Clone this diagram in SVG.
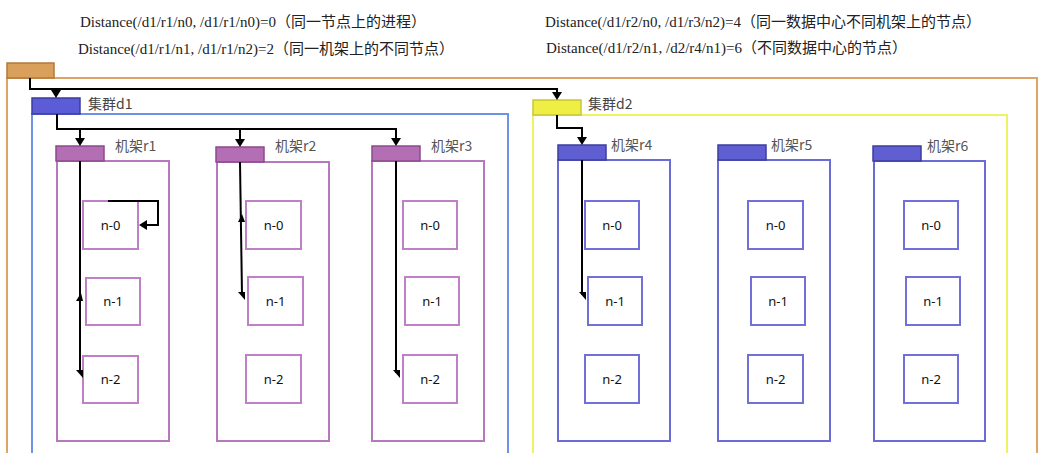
<svg xmlns="http://www.w3.org/2000/svg" width="1045" height="453" viewBox="0 0 1045 453">
  <style>
    .caption { font-family: "Liberation Serif", "Noto Sans CJK SC", serif; font-size: 15px; fill: #222; }
    .dc-label { font-family: "Noto Sans CJK SC", sans-serif; font-size: 14px; fill: #444; }
    .rack-label { font-family: "Noto Sans CJK SC", sans-serif; font-size: 14px; fill: #555; }
    .node-label { font-family: "Noto Sans", "Noto Sans CJK SC", sans-serif; font-size: 13px; fill: #111; text-anchor: middle; }
    .root-box { fill: none; stroke: #dca468; stroke-width: 2; }
    .root-tab { fill: #d9a05b; stroke: #b07a3a; stroke-width: 1.5; }
    .d1-box { fill: none; stroke: #6f92e6; stroke-width: 2; }
    .d1-tab { fill: #5c5cd6; stroke: #3b3b9e; stroke-width: 1.5; }
    .d2-box { fill: none; stroke: #eef266; stroke-width: 2; }
    .d2-tab { fill: #eeee44; stroke: #c6c636; stroke-width: 1.5; }
    .rack-p { fill: none; stroke: #b878c0; stroke-width: 2; }
    .tab-p { fill: #b46fb4; stroke: #8c4a8c; stroke-width: 1.5; }
    .node-p { fill: #fff; stroke: #c080c8; stroke-width: 2; }
    .rack-b { fill: none; stroke: #6b6bd6; stroke-width: 2; }
    .tab-b { fill: #5f5fd2; stroke: #3c3ca0; stroke-width: 1.5; }
    .node-b { fill: #fff; stroke: #7070d8; stroke-width: 2; }
    .link { fill: none; stroke: #000; stroke-width: 2; }
    .head { fill: #000; }
  </style>

  <!-- distance examples -->
  <g id="captions">
    <text class="caption" x="80" y="27">Distance(/d1/r1/n0, /d1/r1/n0)=0（同一节点上的进程）</text>
    <text class="caption" x="78" y="54">Distance(/d1/r1/n1, /d1/r1/n2)=2（同一机架上的不同节点）</text>
    <text class="caption" x="545" y="27">Distance(/d1/r2/n0, /d1/r3/n2)=4（同一数据中心不同机架上的节点）</text>
    <text class="caption" x="546" y="53">Distance(/d1/r2/n1, /d2/r4/n1)=6（不同数据中心的节点）</text>
  </g>

  <!-- root container -->
  <g id="root">
    <rect class="root-box" x="7" y="78" width="1030" height="390"/>
    <rect class="root-tab" x="7" y="63" width="47" height="15"/>
  </g>

  <!-- data center d1 -->
  <g id="d1">
    <rect class="d1-box" x="32" y="114" width="476" height="360"/>
    <rect class="d1-tab" x="32" y="98" width="48" height="16"/>
    <text class="dc-label" x="88" y="109">集群d1</text>
  </g>

  <!-- data center d2 -->
  <g id="d2">
    <rect class="d2-box" x="533" y="115" width="474" height="360"/>
    <rect class="d2-tab" x="533" y="100" width="48" height="15"/>
    <text class="dc-label" x="588" y="109">集群d2</text>
  </g>

  <!-- racks in d1 -->
  <g id="r1">
    <rect class="rack-p" x="57" y="161" width="112" height="280"/>
    <rect class="tab-p" x="56" y="146" width="48" height="15"/>
    <text class="rack-label" x="115" y="151">机架r1</text>
  </g>
  <g id="r2">
    <rect class="rack-p" x="217" y="162" width="112" height="279"/>
    <rect class="tab-p" x="216" y="147" width="48" height="15"/>
    <text class="rack-label" x="275" y="151">机架r2</text>
  </g>
  <g id="r3">
    <rect class="rack-p" x="372" y="161" width="112" height="280"/>
    <rect class="tab-p" x="372" y="146" width="48" height="15"/>
    <text class="rack-label" x="431" y="151">机架r3</text>
  </g>

  <!-- racks in d2 -->
  <g id="r4">
    <rect class="rack-b" x="558" y="160" width="112" height="281"/>
    <rect class="tab-b" x="558" y="145" width="48" height="15"/>
    <text class="rack-label" x="611" y="150">机架r4</text>
  </g>
  <g id="r5">
    <rect class="rack-b" x="718" y="160" width="112" height="281"/>
    <rect class="tab-b" x="718" y="145" width="48" height="15"/>
    <text class="rack-label" x="771" y="150">机架r5</text>
  </g>
  <g id="r6">
    <rect class="rack-b" x="874" y="161" width="111" height="280"/>
    <rect class="tab-b" x="873" y="146" width="48" height="15"/>
    <text class="rack-label" x="927" y="151">机架r6</text>
  </g>

  <!-- nodes -->
  <g id="r1-n0"><rect class="node-p" x="83" y="201" width="55" height="48"/><text class="node-label" x="110.5" y="230">n-0</text></g>
  <g id="r1-n1"><rect class="node-p" x="86" y="278" width="54" height="47"/><text class="node-label" x="113" y="306">n-1</text></g>
  <g id="r1-n2"><rect class="node-p" x="83" y="356" width="55" height="47"/><text class="node-label" x="110.5" y="384">n-2</text></g>

  <g id="r2-n0"><rect class="node-p" x="246" y="201" width="55" height="48"/><text class="node-label" x="273.5" y="230">n-0</text></g>
  <g id="r2-n1"><rect class="node-p" x="248" y="277" width="55" height="48"/><text class="node-label" x="275.5" y="306">n-1</text></g>
  <g id="r2-n2"><rect class="node-p" x="246" y="355" width="55" height="48"/><text class="node-label" x="273.5" y="384">n-2</text></g>

  <g id="r3-n0"><rect class="node-p" x="403" y="201" width="54" height="48"/><text class="node-label" x="430" y="230">n-0</text></g>
  <g id="r3-n1"><rect class="node-p" x="405" y="277" width="54" height="48"/><text class="node-label" x="432" y="306">n-1</text></g>
  <g id="r3-n2"><rect class="node-p" x="403" y="355" width="54" height="48"/><text class="node-label" x="430" y="384">n-2</text></g>

  <g id="r4-n0"><rect class="node-b" x="585" y="201" width="54" height="48"/><text class="node-label" x="612" y="230">n-0</text></g>
  <g id="r4-n1"><rect class="node-b" x="588" y="277" width="54" height="48"/><text class="node-label" x="615" y="306">n-1</text></g>
  <g id="r4-n2"><rect class="node-b" x="585" y="355" width="54" height="48"/><text class="node-label" x="612" y="384">n-2</text></g>

  <g id="r5-n0"><rect class="node-b" x="748" y="201" width="55" height="48"/><text class="node-label" x="775.5" y="230">n-0</text></g>
  <g id="r5-n1"><rect class="node-b" x="751" y="277" width="54" height="48"/><text class="node-label" x="778" y="306">n-1</text></g>
  <g id="r5-n2"><rect class="node-b" x="748" y="355" width="55" height="48"/><text class="node-label" x="775.5" y="384">n-2</text></g>

  <g id="r6-n0"><rect class="node-b" x="904" y="201" width="54" height="48"/><text class="node-label" x="931" y="230">n-0</text></g>
  <g id="r6-n1"><rect class="node-b" x="906" y="277" width="54" height="48"/><text class="node-label" x="933" y="306">n-1</text></g>
  <g id="r6-n2"><rect class="node-b" x="904" y="355" width="54" height="48"/><text class="node-label" x="931" y="384">n-2</text></g>

  <!-- connectors -->
  <g id="connectors">
    <!-- root to data centers -->
    <path class="link" d="M30,78 V89 H557 V93"/>
    <path class="link" d="M56,89 V91"/>
    <polygon class="head" points="51,90 61,90 56,98"/>
    <polygon class="head" points="552,92 562,92 557,100"/>
    <!-- d1 to racks -->
    <path class="link" d="M57,114 V129 H396 V139"/>
    <path class="link" d="M80,129 V139"/>
    <path class="link" d="M240,129 V140"/>
    <polygon class="head" points="75,138 85,138 80,146"/>
    <polygon class="head" points="235,139 245,139 240,147"/>
    <polygon class="head" points="391,138 401,138 396,146"/>
    <!-- d2 to r4 -->
    <path class="link" d="M557,115 V128 H582 V138"/>
    <polygon class="head" points="577,137 587,137 582,145"/>
    <!-- inside r1 -->
    <path class="link" d="M80,161 V373"/>
    <polygon class="head" points="76,370 83,370 83,378"/>
    <polygon class="head" points="76,301 83,301 81,293"/>
    <path class="link" d="M108,201 H158 V225 H146"/>
    <polygon class="head" points="147,220 147,230 139,225"/>
    <!-- inside r2 -->
    <path class="link" d="M240,162 L242,295"/>
    <polygon class="head" points="238,222 245,222 242,214"/>
    <polygon class="head" points="238,292 245,292 245,300"/>
    <!-- inside r3 -->
    <path class="link" d="M396,161 V373"/>
    <polygon class="head" points="393,370 400,370 400,378"/>
    <!-- inside r4 -->
    <path class="link" d="M582,160 V295"/>
    <polygon class="head" points="579,292 586,292 586,300"/>
  </g>
</svg>
